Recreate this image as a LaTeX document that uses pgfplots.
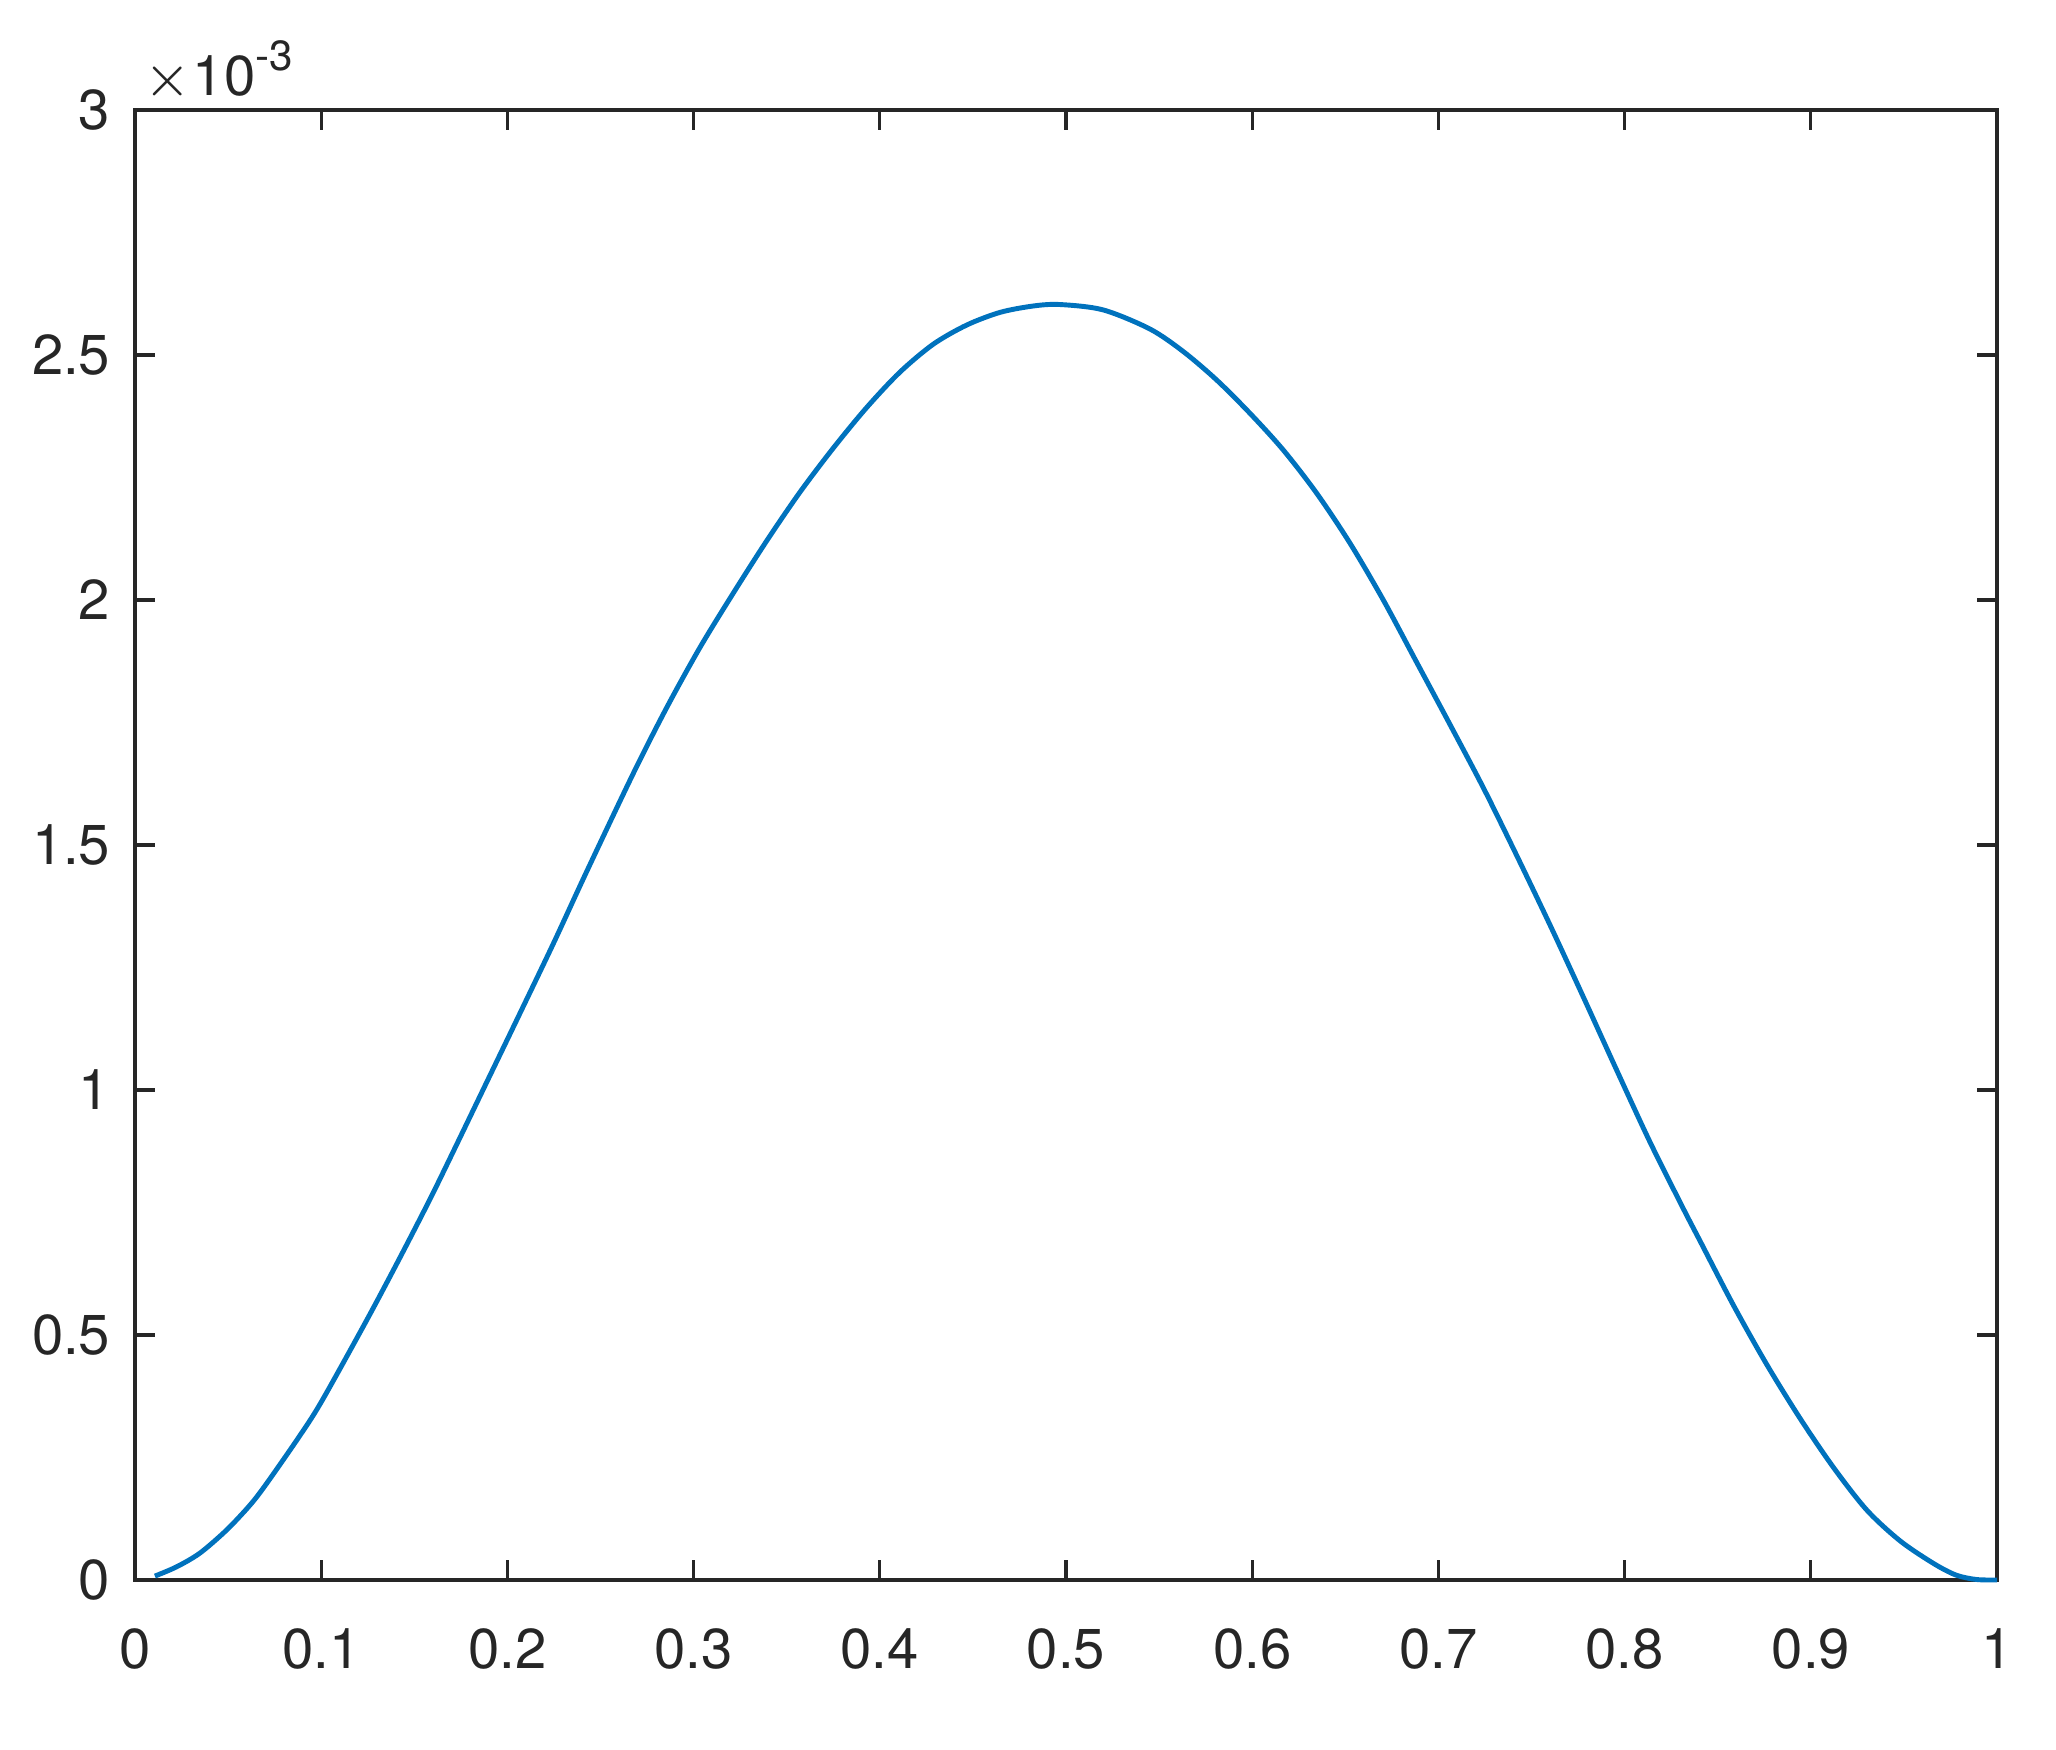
\documentclass[border=0pt]{standalone}
\usepackage{fontspec}
\setmainfont{TeX Gyre Heros}
\usepackage{pgfplots}
\pgfplotsset{compat=1.18}
\definecolor{mlblue}{RGB}{0,114,189}
\definecolor{axgray}{RGB}{38,38,38}

\begin{document}
\begin{tikzpicture}
\path[use as bounding box] (-0.675,-0.85) rectangle (9.605,7.9);
\begin{axis}[
  at={(0,0)}, anchor=south west,
  width=9.31cm, height=7.35cm, scale only axis,
  xmin=0, xmax=1, ymin=0, ymax=3,
  xtick={0,0.1,0.2,0.3,0.4,0.5,0.6,0.7,0.8,0.9,1},
  ytick={0,0.5,1,1.5,2,2.5,3},
  major tick length=0.1cm,
  tick align=inside,
  axis line style={axgray, line width=0.47pt},
  every tick/.style={axgray, line width=0.47pt},
  ticklabel style={font=\fontsize{8}{9.6}\selectfont, text=axgray},
  /pgf/number format/assume math mode=true,
  xticklabel style={yshift=-0.12cm},
  clip=false,
]
% values in units of 1e-3
\addplot[mlblue, line width=0.7pt, smooth, tension=0.5] coordinates {
(0.0107,0.008)(0.0224,0.027)(0.0349,0.055)(0.0492,0.102)(0.0618,0.153)
(0.0707,0.197)(0.0886,0.295)(0.1003,0.365)(0.1244,0.530)(0.1423,0.658)
(0.1584,0.777)(0.171,0.875)(0.1889,1.016)(0.2068,1.157)(0.2247,1.299)
(0.2426,1.446)(0.2676,1.646)(0.2855,1.780)(0.3034,1.903)
(0.3213,2.014)(0.3393,2.121)(0.3571,2.220)(0.375,2.310)(0.393,2.393)
(0.4108,2.465)(0.4287,2.522)(0.4466,2.561)(0.4646,2.587)(0.4824,2.600)
(0.4968,2.603)(0.52,2.592)(0.5451,2.553)(0.563,2.507)(0.5809,2.449)
(0.5988,2.381)(0.6167,2.306)(0.6346,2.218)(0.6525,2.116)(0.6704,2.000)
(0.6883,1.873)(0.7062,1.746)(0.7241,1.617)(0.7411,1.486)(0.7599,1.337)
(0.7778,1.190)(0.7958,1.040)(0.8136,0.894)(0.8315,0.758)(0.8405,0.692)
(0.8584,0.561)(0.8763,0.440)(0.8942,0.330)(0.9121,0.230)(0.93,0.143)
(0.9479,0.080)(0.9658,0.034)(0.978,0.010)(0.989,0.001)(1.0,0.0)
};
\node[anchor=base west, inner sep=0, text=axgray, font=\fontsize{8}{9.6}\selectfont]
  at (rel axis cs:0,1) [xshift=0.04cm, yshift=0.07cm]
  {$\times$\kern0.3pt10\raisebox{0.46em}{\fontsize{6}{7}\selectfont -3}};
\end{axis}
\end{tikzpicture}
\end{document}
